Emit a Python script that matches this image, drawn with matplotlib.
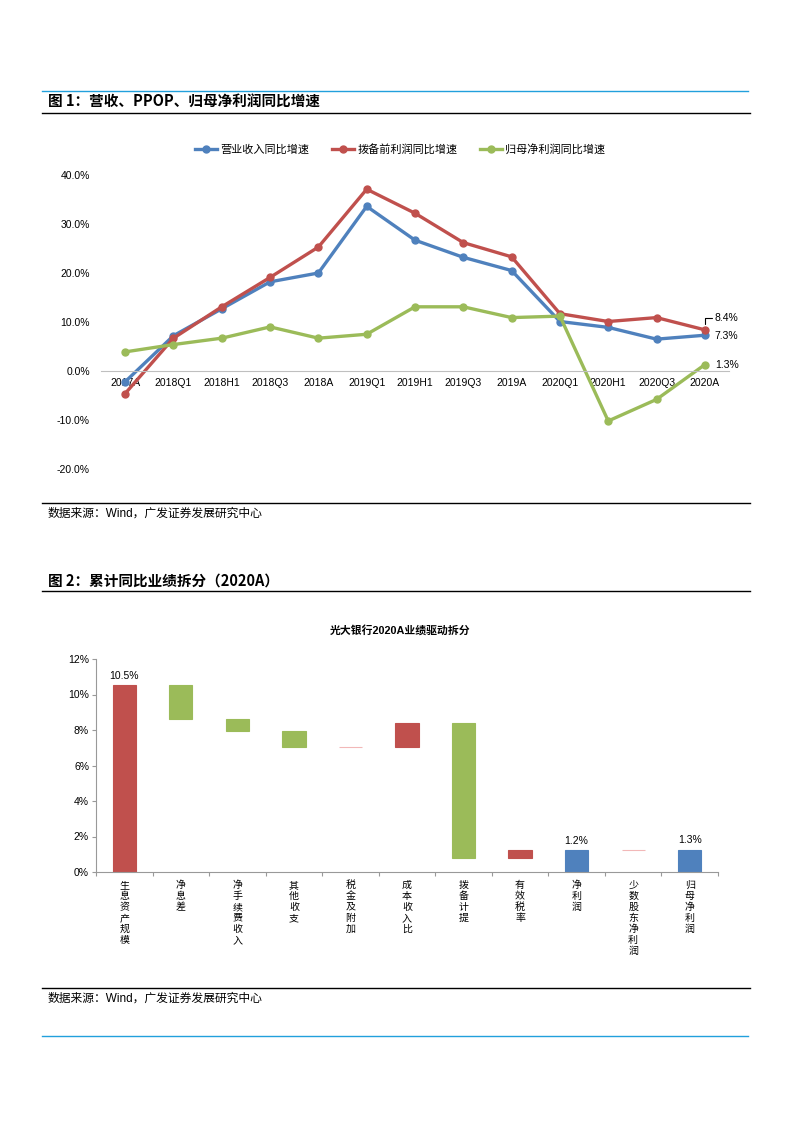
import numpy as np
import matplotlib
matplotlib.use("Agg")
import matplotlib.pyplot as plt
from matplotlib.lines import Line2D

plt.rcParams['font.family'] = ['Liberation Sans', 'Noto Sans CJK SC']

W, H = 793, 1122

# ---------------------------------------------------------------
# data
# ---------------------------------------------------------------
periods = ["2017A", "2018Q1", "2018H1", "2018Q3", "2018A", "2019Q1", "2019H1",
           "2019Q3", "2019A", "2020Q1", "2020H1", "2020Q3", "2020A"]
revenue_yoy = [-2.2, 7.2, 12.7, 18.2, 20.0, 33.6, 26.7, 23.2, 20.5, 10.1, 8.9, 6.5, 7.3]
ppop_yoy = [-4.6, 6.7, 13.1, 19.1, 25.3, 37.1, 32.2, 26.2, 23.3, 11.7, 10.1, 10.9, 8.4]
netprofit_yoy = [3.9, 5.4, 6.7, 9.0, 6.7, 7.5, 13.1, 13.1, 10.9, 11.2, -10.2, -5.8, 1.3]
series_names = ["营业收入同比增速", "拨备前利润同比增速", "归母净利润同比增速"]

drivers = ["生息资产规模", "净息差", "净手续费收入", "其他收支", "税金及附加", "成本收入比",
           "拨备计提", "有效税率", "净利润", "少数股东净利润", "归母净利润"]
# change in percentage points; None marks a subtotal bar
driver_delta = [10.52, -1.90, -0.66, -0.90, -0.02, 1.33, -7.60, 0.47, None, 0.02, None]

source_text = "数据来源：Wind，广发证券发展研究中心"


def box(l, t, r, b):
    return [l / W, 1 - b / H, (r - l) / W, (b - t) / H]


def hline(fig, x0, x1, y, color, lw):
    fig.add_artist(Line2D([x0 / W, x1 / W], [1 - y / H, 1 - y / H], color=color, lw=lw))


fig = plt.figure(figsize=(W / 100, H / 100), dpi=100)

blue_rule = "#22a0dc"
hline(fig, 42, 748, 91, blue_rule, 1.0)
hline(fig, 42, 750, 113, "black", 1.0)
fig.text(48 / W, 1 - 102 / H, "图 1：营收、PPOP、归母净利润同比增速", fontsize=10.5,
         fontweight="bold", va="center", ha="left", family=['Noto Sans CJK SC'])

# ---------------------------------------------------------------
# chart 1: line chart
# ---------------------------------------------------------------
c_blue, c_red, c_green = "#4f81bd", "#c0504d", "#9bbb59"
ax1 = fig.add_axes(box(101, 175, 729, 469))
x = np.arange(len(periods))
for vals, col, name in zip([revenue_yoy, ppop_yoy, netprofit_yoy], [c_blue, c_red, c_green], series_names):
    ax1.plot(x, vals, color=col, lw=2.4, marker="o", markersize=5, label=name)
ax1.set_xlim(-0.5, len(periods) - 0.5)
ax1.set_ylim(-20, 40)
ax1.set_yticks([-20, -10, 0, 10, 20, 30, 40])
ax1.set_yticklabels([f"{v:.1f}%" for v in [-20, -10, 0, 10, 20, 30, 40]], fontsize=7.5)
for s in ["top", "right", "left"]:
    ax1.spines[s].set_visible(False)
ax1.spines["bottom"].set_position(("data", 0))
ax1.spines["bottom"].set_color("#bfbfbf")
ax1.set_xticks(x)
ax1.set_xticklabels(periods, fontsize=7.5)
ax1.tick_params(length=0, pad=5)
ax1.tick_params(axis="y", pad=8)

ax1.annotate(f"{ppop_yoy[-1]:.1f}%", xy=(x[-1], ppop_yoy[-1]), xytext=(10, 12),
             textcoords="offset pixels", fontsize=7.5, va="center", ha="left",
             arrowprops=dict(arrowstyle="-", color="black", lw=0.8,
                             connectionstyle="angle,angleA=0,angleB=90,rad=0",
                             shrinkA=0, shrinkB=4))
ax1.annotate(f"{revenue_yoy[-1]:.1f}%", xy=(x[-1], revenue_yoy[-1]), xytext=(10, -1),
             textcoords="offset pixels", fontsize=7.5, va="center", ha="left")
ax1.annotate(f"{netprofit_yoy[-1]:.1f}%", xy=(x[-1], netprofit_yoy[-1]), xytext=(10, 0),
             textcoords="offset pixels", fontsize=7.5, va="center", ha="left")

fig.legend(*ax1.get_legend_handles_labels(), loc="center", bbox_to_anchor=(400 / W, 1 - 149 / H),
           ncol=3, frameon=False, handlelength=2.0, columnspacing=2.0,
           handletextpad=0.3, prop={'family': ['Noto Sans CJK SC'], 'size': 8})

hline(fig, 42, 750, 503, "black", 1.0)
fig.text(48 / W, 1 - 514 / H, source_text, fontsize=8.5, va="center", ha="left")

# ---------------------------------------------------------------
# chart 2: waterfall
# ---------------------------------------------------------------
fig.text(48 / W, 1 - 581 / H, "图 2：累计同比业绩拆分（2020A）", fontsize=10.5,
         fontweight="bold", va="center", ha="left", family=['Noto Sans CJK SC'])
hline(fig, 42, 750, 591, "black", 1.0)
fig.text(400 / W, 1 - 630 / H, "光大银行2020A业绩驱动拆分", fontsize=7.8, fontweight="bold",
         va="center", ha="center")

ax2 = fig.add_axes(box(96, 659, 718, 872))
bottoms, heights, colors = [], [], []
level = 0.0
for d in driver_delta:
    if d is None:
        bottoms.append(0.0)
        heights.append(level)
        colors.append(c_blue)
    else:
        if d >= 0:
            bottoms.append(level)
        else:
            bottoms.append(level + d)
        heights.append(abs(d))
        if abs(d) < 0.05:
            colors.append("#f2b8b8")
        else:
            colors.append(c_red if d > 0 else c_green)
        level += d
xi = np.arange(len(drivers))
ax2.bar(xi, heights, bottom=bottoms, width=0.41, color=colors, edgecolor=colors, linewidth=0.8)
ax2.set_xlim(-0.5, len(drivers) - 0.5)
ax2.set_ylim(0, 12)
ax2.set_yticks(np.arange(0, 13, 2))
ax2.set_yticklabels([f"{v}%" for v in range(0, 13, 2)], fontsize=7.5)
for s in ["top", "right"]:
    ax2.spines[s].set_visible(False)
for s in ["left", "bottom"]:
    ax2.spines[s].set_color("#999999")
ax2.tick_params(axis="y", length=3, color="#999999", pad=2)
ax2.set_xticks(np.arange(len(drivers) + 1) - 0.5, minor=False)
ax2.set_xticklabels([])
ax2.tick_params(axis="x", length=3, color="#999999", direction="out")
for i, name in enumerate(drivers):
    ax2.text(i, -0.45, "\n".join(name), ha="center", va="top", fontsize=7.2,
             linespacing=1.12, family=['Noto Sans CJK SC'])

for i in [0, 8, 10]:
    top = bottoms[i] + heights[i]
    ax2.text(xi[i], top + 0.25, f"{top:.1f}%", ha="center", va="bottom", fontsize=7.5)

hline(fig, 42, 750, 988, "black", 1.0)
fig.text(48 / W, 1 - 999 / H, source_text, fontsize=8.5, va="center", ha="left")
hline(fig, 42, 748, 1036, blue_rule, 1.0)

fig.savefig("out.png", dpi=100)
